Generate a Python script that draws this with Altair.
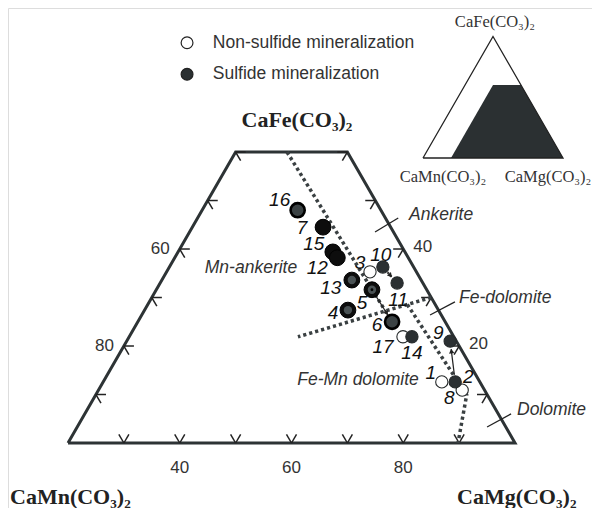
import altair as alt
import numpy as np
import pandas as pd

S3 = np.sqrt(3) / 2.0

# ---------------- data (compositions in mol %) ----------------
sample_ids = ["16", "7", "15", "12", "13", "5", "4", "6", "3", "10", "11", "17", "14", "9", "1", "2", "8"]
sample_fe = [48.0, 44.5, 39.4, 38.2, 33.6, 31.6, 27.4, 25.0, 35.3, 36.3, 33.0, 21.9, 21.9, 21.0, 12.6, 12.6, 10.9]
sample_mg = [37.1, 43.4, 47.7, 49.1, 54.0, 58.6, 56.4, 65.5, 56.4, 58.2, 62.4, 69.0, 70.6, 77.9, 80.6, 83.0, 85.1]
sample_style = ["grayout", "black", "black", "black", "ringed", "ringed", "ringed", "grayout",
                "open", "gray", "gray", "open", "gray", "gray", "open", "gray", "open"]

# boundary lines (mg, fe) vertices
line_L1 = [(29.2, 60.0), (63.2, 27.2)]
line_L2 = [(70.0, 30.0), (50.2, 21.9)]
line_L3 = [(66.45, 28.55), (86.4, 9.9), (89.8, 0.0)]

# arrows between samples
arrows_solid = [("5", "6"), ("2", "9")]
arrows_dotted = [("10", "11")]

# leader lines for field names (mg, fe) -> (mg, fe)
leaders = [((53.2, 43.5), (55.9, 46.4)), ((71.6, 26.4), (74.7, 29.1)), ((93.35, 3.3), (96.3, 6.0))]

bottom_ticks = [30, 40, 50, 60, 70, 80, 90]
bottom_labels = {40: "40", 60: "60", 80: "80"}
side_ticks = [10, 20, 30, 40, 50, 60]
left_labels = {40: "60", 20: "80"}
right_labels = {40: "40", 20: "20"}

legend_names = ["Non-sulfide mineralization", "Sulfide mineralization"]

# label offsets (px) for sample numbers
label_off = {"16": (-18, -10), "7": (-21, 1), "15": (-19, -8), "12": (-20, 10), "13": (-21, 8),
             "5": (-10, 13), "4": (-15, 3), "6": (-15, 3), "3": (-10, -9), "10": (-2, -12),
             "11": (1, 17), "17": (-20, 10), "14": (0, 16), "9": (-12, -8), "1": (-11, -9),
             "2": (13, -5), "8": (-13, 8)}

PXX, PXY = 5.5875, 5.6


def tern(mg, fe):
    return mg + fe / 2.0, fe * S3


def p2d(px, py):
    return 20 + (px - 68) / PXX, (443 - py) / PXY


XS = alt.Scale(domain=[9.2617, 113.7809], nice=False, zero=False)
YS = alt.Scale(domain=[-11.6071, 77.6786], nice=False, zero=False)


def ex(f="x"):
    return alt.X(f"{f}:Q", scale=XS, axis=None)


def ey(f="y"):
    return alt.Y(f"{f}:Q", scale=YS, axis=None)


DARK = "#2d3335"
GRAY = "#3b4244"

# ---------------- points ----------------
rows = []
for sid, fe, mg, st in zip(sample_ids, sample_fe, sample_mg, sample_style):
    x, y = tern(mg, fe)
    dx, dy = label_off[sid]
    rows.append(dict(id=sid, x=x, y=y, style=st,
                     mineral=legend_names[0] if st == "open" else legend_names[1],
                     lx=x + dx / PXX, ly=y - dy / PXY))
pts = pd.DataFrame(rows)
order_map = {"open": 0, "gray": 1, "grayout": 2, "black": 3, "ringed": 3}
pts["ord"] = pts["style"].map(order_map)
pts = pts.sort_values("ord", kind="stable")

base_pts = alt.Chart(pts[pts["style"].isin(["open", "gray"])]).mark_point(
    filled=True, size=150, shape="circle", stroke="#262a2b", strokeWidth=1.1, opacity=1
).encode(
    x=ex(), y=ey(),
    fill=alt.Fill("mineral:N", scale=alt.Scale(domain=legend_names, range=["white", "#2b3032"]),
                  legend=alt.Legend(title=None, orient="none", legendX=170.3, legendY=26,
                                    symbolType="circle", symbolSize=140, symbolStrokeColor="#222",
                                    symbolStrokeWidth=1.2, labelFont="Liberation Sans",
                                    labelFontSize=17.5, labelColor="#333", labelOffset=17,
                                    labelLimit=500, rowPadding=12.5, padding=0)),
)
grayout_pts = alt.Chart(pts[pts["style"] == "grayout"]).mark_point(
    filled=True, size=200, shape="circle", fill=GRAY, stroke="#000", strokeWidth=2.6, opacity=1
).encode(x=ex(), y=ey())
black_pts = alt.Chart(pts[pts["style"].isin(["black", "ringed"])]).mark_point(
    filled=True, size=250, shape="circle", fill="#0d0d0d", stroke="#000", strokeWidth=1, opacity=1
).encode(x=ex(), y=ey())
inner_pts = alt.Chart(pts[pts["style"] == "ringed"]).mark_point(
    filled=True, size=70, shape="circle", fill="#4a5254", opacity=1
).encode(x=ex(), y=ey())
dot_pts = alt.Chart(pts[pts["id"] == "5"]).mark_point(
    filled=True, size=8, shape="circle", fill="#000", opacity=1
).encode(x=ex(), y=ey())

num_text = alt.Chart(pts).mark_text(
    font="Liberation Sans", fontSize=19, fontStyle="italic", color="#111",
    align="center", baseline="middle"
).encode(x=ex("lx"), y=ey("ly"), text="id:N")

# ---------------- frame ----------------
frame_mgfe = [(20, 0), (100, 0), (40, 60), (20, 60), (20, 0)]
frame = pd.DataFrame([dict(i=i, x=tern(m, f)[0], y=tern(m, f)[1]) for i, (m, f) in enumerate(frame_mgfe)])
frame_ch = alt.Chart(frame).mark_line(color=DARK, strokeWidth=3, strokeJoin="miter").encode(
    x=ex(), y=ey(), order="i:Q")

# ticks
d = 1.8
segs = []
for mg in bottom_ticks:
    for a in [(mg - d, d), (mg, d)]:
        x1, y1 = tern(mg, 0)
        x2, y2 = tern(*a)
        segs.append(dict(x=x1, y=y1, x2=x2, y2=y2))
for fe in side_ticks:
    for a in [(20 + d, fe), (20 + d, fe - d)]:
        x1, y1 = tern(20, fe)
        x2, y2 = tern(*a)
        segs.append(dict(x=x1, y=y1, x2=x2, y2=y2))
    mgr = 100 - fe
    for a in [(mgr - d, fe), (mgr, fe - d)]:
        x1, y1 = tern(mgr, fe)
        x2, y2 = tern(*a)
        segs.append(dict(x=x1, y=y1, x2=x2, y2=y2))
ticks_ch = alt.Chart(pd.DataFrame(segs)).mark_rule(color="#222", strokeWidth=1.5).encode(
    x=ex(), y=ey(), x2="x2:Q", y2="y2:Q")

# tick labels
bl = pd.DataFrame([dict(x=tern(m, 0)[0], y=0.0, t=t) for m, t in bottom_labels.items()])
ll = pd.DataFrame([dict(x=tern(20, f)[0], y=tern(20, f)[1], t=t) for f, t in left_labels.items()])
rl = pd.DataFrame([dict(x=tern(100 - f, f)[0], y=tern(100 - f, f)[1], t=t) for f, t in right_labels.items()])
tk = dict(font="Liberation Sans", fontSize=17, color="#333", baseline="middle")
bl_ch = alt.Chart(bl).mark_text(align="center", dy=25, **tk).encode(x=ex(), y=ey(), text="t:N")
ll_ch = alt.Chart(ll).mark_text(align="right", dx=-10, **tk).encode(x=ex(), y=ey(), text="t:N")
rl_ch = alt.Chart(rl).mark_text(align="left", dx=10, dy=-2, **tk).encode(x=ex(), y=ey(), text="t:N")

# dotted boundaries
lr = []
for name, pts_l in [("L1", line_L1), ("L2", line_L2), ("L3", line_L3)]:
    for i, (m, f) in enumerate(pts_l):
        x, y = tern(m, f)
        lr.append(dict(line=name, i=i, x=x, y=y))
dotted_ch = alt.Chart(pd.DataFrame(lr)).mark_line(
    color="#3a4042", strokeWidth=3.5, strokeDash=[3.2, 3], strokeCap="butt").encode(
    x=ex(), y=ey(), detail="line:N", order="i:Q")

# leaders
ld = []
for (m1, f1), (m2, f2) in leaders:
    x1, y1 = tern(m1, f1)
    x2, y2 = tern(m2, f2)
    ld.append(dict(x=x1, y=y1, x2=x2, y2=y2))
lead_ch = alt.Chart(pd.DataFrame(ld)).mark_rule(color="#222", strokeWidth=1.3).encode(
    x=ex(), y=ey(), x2="x2:Q", y2="y2:Q")

# arrows
pos = {r["id"]: (r["x"], r["y"]) for _, r in pts.iterrows()}


def arrow_rows(pairs):
    out, heads = [], []
    for a, b in pairs:
        (xa, ya), (xb, yb) = pos[a], pos[b]
        vx, vy = (xb - xa) * PXX, (yb - ya) * PXY
        L = np.hypot(vx, vy)
        ux, uy = vx / L, vy / L
        sx, sy = xa + ux * 7 / PXX, ya + uy * 7 / PXY
        tx, ty = xb - ux * 8 / PXX, yb - uy * 8 / PXY
        out.append(dict(x=sx, y=sy, x2=tx, y2=ty))
        ang = (np.degrees(np.arctan2(ux, uy)) + 360) % 360
        heads.append(dict(x=tx - ux * 2 / PXX, y=ty - uy * 2 / PXY, ang=ang))
    return pd.DataFrame(out), pd.DataFrame(heads)


sa, sh = arrow_rows(arrows_solid)
da, dh = arrow_rows(arrows_dotted)
arr_solid = alt.Chart(sa).mark_rule(color="#222", strokeWidth=1.2).encode(
    x=ex(), y=ey(), x2="x2:Q", y2="y2:Q")
arr_dot = alt.Chart(da).mark_rule(color="#333", strokeWidth=2.2, strokeDash=[2, 2]).encode(
    x=ex(), y=ey(), x2="x2:Q", y2="y2:Q")
heads = alt.Chart(pd.concat([sh, dh])).mark_point(
    shape="triangle-up", filled=True, size=28, fill="#222", opacity=1).encode(
    x=ex(), y=ey(), angle=alt.Angle("ang:Q", scale=None))

# field names
fields = [("Ankerite", 409, 215, "left"), ("Mn-ankerite", 251, 268, "center"),
          ("Fe-dolomite", 459, 298, "left"), ("Fe-Mn dolomite", 358, 380, "center"),
          ("Dolomite", 517, 410, "left")]
field_layers = []
for t, px, py, al in fields:
    x, y = p2d(px, py)
    field_layers.append(alt.Chart(pd.DataFrame([dict(x=x, y=y, t=t)])).mark_text(
        font="Liberation Sans", fontSize=17.5, fontStyle="italic", color="#333",
        align=al, baseline="middle").encode(x=ex(), y=ey(), text="t:N"))

# end-member labels
corner = [("CaFe(CO₃)₂", 297, 120, "center", "middle"),
          ("CaMn(CO₃)₂", 10, 504, "left", "alphabetic"),
          ("CaMg(CO₃)₂", 457, 504, "left", "alphabetic")]
corner_layers = []
for t, px, py, al, bs in corner:
    x, y = p2d(px, py)
    corner_layers.append(alt.Chart(pd.DataFrame([dict(x=x, y=y, t=t)])).mark_text(
        font="Liberation Serif", fontSize=22, fontWeight="bold", color="#222",
        align=al, baseline=bs).encode(x=ex(), y=ey(), text="t:N"))

# ---------------- inset ----------------
IX0, IY0 = p2d(423, 158)
K = 140 / PXX / 100.0


def itern(mg, fe):
    x, y = tern(mg, fe)
    return IX0 + K * x, IY0 + K * y


tri = pd.DataFrame([dict(i=i, x=itern(m, f)[0], y=itern(m, f)[1])
                    for i, (m, f) in enumerate([(0, 0), (100, 0), (0, 100), (0, 0)])])
tri_ch = alt.Chart(tri).mark_line(color="#222", strokeWidth=1.3, strokeJoin="miter").encode(
    x=ex(), y=ey(), order="i:Q")
dark_mgfe = [(20, 0), (20, 60), (40, 60), (100, 0)]
dk = pd.DataFrame([dict(x=itern(m, f)[0], y=itern(m, f)[1], y2=IY0) for m, f in dark_mgfe])
dark_ch = alt.Chart(dk).mark_area(color="#2b3032", opacity=1, interpolate="linear").encode(
    x=ex(), y=ey(), y2="y2:Q")
inset_lab = [("CaFe(CO₃)₂", 495, 22), ("CaMn(CO₃)₂", 443, 177), ("CaMg(CO₃)₂", 548, 177)]
inset_layers = []
for t, px, py in inset_lab:
    x, y = p2d(px, py)
    inset_layers.append(alt.Chart(pd.DataFrame([dict(x=x, y=y, t=t)])).mark_text(
        font="Liberation Serif", fontSize=16.5, color="#333", align="center",
        baseline="middle").encode(x=ex(), y=ey(), text="t:N"))

chart = alt.layer(
    dark_ch, tri_ch, *inset_layers,
    frame_ch, ticks_ch, bl_ch, ll_ch, rl_ch,
    dotted_ch, lead_ch, arr_solid, arr_dot,
    base_pts, grayout_pts, black_pts, inner_pts, dot_pts, heads,
    num_text, *field_layers, *corner_layers,
).properties(width=584, height=500, autosize=alt.AutoSizeParams(type="none"), padding=0
).configure_view(stroke=None).configure(background="white")

chart.save("out.html", embed_options={"renderer": "svg", "actions": False})
